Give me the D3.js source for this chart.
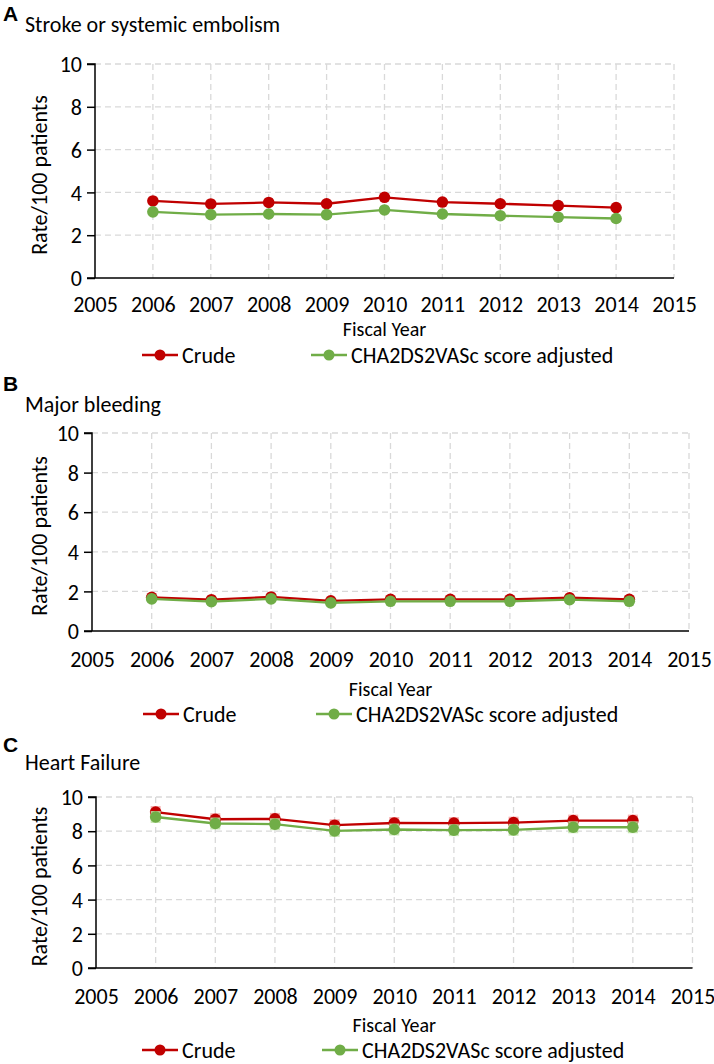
<!DOCTYPE html>
<html><head><meta charset="utf-8">
<script src="https://cdn.jsdelivr.net/npm/d3@7"></script>
<style>
html,body{margin:0;padding:0;background:#fff;}
svg text{font-family:Carlito,Calibri,Lato,"Noto Sans",sans-serif;fill:#000;}
</style></head>
<body><svg id="chart" width="714" height="1064"></svg>
<script>
const years = [2006,2007,2008,2009,2010,2011,2012,2013,2014];
const xTickLabels = [2005,2006,2007,2008,2009,2010,2011,2012,2013,2014,2015];
const yTickLabels = [0,2,4,6,8,10];
const seriesNames = ["Crude","CHA2DS2VASc score adjusted"];
const panelLetters = ["A","B","C"];
const panelTitles = ["Stroke or systemic embolism","Major bleeding","Heart Failure"];
const strokeCrude = [3.60,3.46,3.53,3.47,3.77,3.55,3.47,3.38,3.29];
const strokeAdj   = [3.09,2.96,2.99,2.96,3.18,2.99,2.91,2.84,2.78];
const bleedCrude  = [1.70,1.58,1.72,1.52,1.60,1.60,1.60,1.68,1.60];
const bleedAdj    = [1.62,1.48,1.62,1.42,1.50,1.50,1.50,1.58,1.50];
const hfCrude     = [9.12,8.70,8.72,8.35,8.48,8.47,8.50,8.62,8.62];
const hfAdj       = [8.83,8.45,8.41,8.02,8.10,8.06,8.08,8.23,8.23];
const hfErr       = [0.35,0.35,0.35,0.35,0.35,0.35,0.35,0.35,0.35];

const colors = ["#c00000","#70ad47"];
const errColors = ["#f4a3a3","#bfe0a8"];

const layout = [
  {x0:95, x1:674, yTop:64, yBot:278, letterY:21, titleY:32, tickY:304, fyY:329.4, legY:355, legX:[142,311]},
  {x0:92, x1:689, yTop:433, yBot:631, letterY:391, titleY:412, tickY:659, fyY:688.5, legY:714, legX:[143,316]},
  {x0:96, x1:692.5, yTop:797, yBot:968, letterY:752, titleY:770, tickY:996, fyY:1024.5, legY:1050, legX:[142,322]}
];
const data = [
  [strokeCrude, strokeAdj, null],
  [bleedCrude, bleedAdj, null],
  [hfCrude, hfAdj, hfErr]
];

const svg = d3.select("#chart");
const FS = 22;

layout.forEach((L, i) => {
  const g = svg.append("g");
  const x = d3.scaleLinear().domain([2005,2015]).range([L.x0, L.x1]);
  const y = d3.scaleLinear().domain([0,10]).range([L.yBot, L.yTop]);

  g.append("text").attr("x",3).attr("y",L.letterY)
    .style("font-family","'Liberation Sans',Arial,sans-serif").style("font-weight","bold")
    .style("font-size","21px").text(panelLetters[i]);
  g.append("text").attr("x",25).attr("y",L.titleY).style("font-size",FS+"px").text(panelTitles[i]);

  const grid = g.append("g").attr("stroke","#d9d9d9").attr("stroke-width",1.3).attr("stroke-dasharray","6,4").attr("fill","none");
  grid.selectAll("line.h").data(yTickLabels.filter(d=>d>0)).join("line")
    .attr("x1",L.x0).attr("x2",L.x1).attr("y1",d=>y(d)).attr("y2",d=>y(d));
  grid.selectAll("line.v").data(xTickLabels.filter(d=>d>2005)).join("line").attr("class","v")
    .attr("y1",L.yTop).attr("y2",L.yBot).attr("x1",d=>x(d)).attr("x2",d=>x(d));

  const yAxis = d3.axisLeft(y).tickValues(yTickLabels).tickSize(8).tickPadding(5).tickFormat(d3.format("d"));
  const ya = g.append("g").attr("transform",`translate(${L.x0},0)`).call(yAxis);
  ya.select(".domain").attr("stroke","#000").attr("stroke-width",1.5).attr("d",`M-8,${L.yTop}H0V${L.yBot}`);
  ya.selectAll(".tick line").attr("stroke","#000").attr("stroke-width",1.5);
  ya.selectAll(".tick text").style("font-size",FS+"px").attr("dy","0.35em")
    .style("font-family","Carlito,Calibri,Lato,sans-serif");

  const xAxis = d3.axisBottom(x).tickValues(xTickLabels).tickSize(0).tickPadding(0).tickFormat(d3.format("d"));
  const xa = g.append("g").attr("transform",`translate(0,${L.yBot})`).call(xAxis);
  xa.select(".domain").attr("stroke","#000").attr("stroke-width",1.5).attr("d",`M${L.x0-8},0H${L.x1}`);
  xa.selectAll(".tick text").attr("y",L.tickY-L.yBot).attr("dy","0.35em").style("font-size",FS+"px")
    .style("font-family","Carlito,Calibri,Lato,sans-serif");

  g.append("text").attr("x",(L.x0+L.x1)/2).attr("y",L.fyY).attr("dy","0.35em")
    .attr("text-anchor","middle").style("font-size","20px").text("Fiscal Year");
  g.append("text").attr("transform",`translate(39,${(L.yTop+L.yBot)/2+4}) rotate(-90)`)
    .attr("dy","0.35em").attr("text-anchor","middle").style("font-size",FS+"px").text("Rate/100 patients");

  const [crude, adj, err] = data[i];
  [crude, adj].forEach((vals, s) => {
    const pts = years.map((yr, k) => ({yr, v: vals[k], e: err ? err[k] : 0}));
    if (err) {
      g.append("g").selectAll("rect").data(pts).join("rect")
        .attr("x",d=>x(d.yr)-5).attr("width",10)
        .attr("y",d=>y(d.v+d.e)).attr("height",d=>y(d.v-d.e)-y(d.v+d.e))
        .attr("fill",errColors[s]).attr("opacity",0.85);
    }
    g.append("path").datum(pts)
      .attr("d", d3.line().x(d=>x(d.yr)).y(d=>y(d.v)))
      .attr("fill","none").attr("stroke",colors[s]).attr("stroke-width",2.3);
    g.append("g").selectAll("circle").data(pts).join("circle")
      .attr("cx",d=>x(d.yr)).attr("cy",d=>y(d.v)).attr("r",5.8).attr("fill",colors[s]);
  });

  seriesNames.forEach((name, s) => {
    const lx = L.legX[s];
    g.append("line").attr("x1",lx).attr("x2",lx+36).attr("y1",L.legY).attr("y2",L.legY)
      .attr("stroke",colors[s]).attr("stroke-width",2.3);
    g.append("circle").attr("cx",lx+18).attr("cy",L.legY).attr("r",5.5).attr("fill",colors[s]);
    g.append("text").attr("x",lx+40).attr("y",L.legY).attr("dy","0.35em")
      .style("font-size",FS+"px").text(name);
  });
});
</script></body></html>
